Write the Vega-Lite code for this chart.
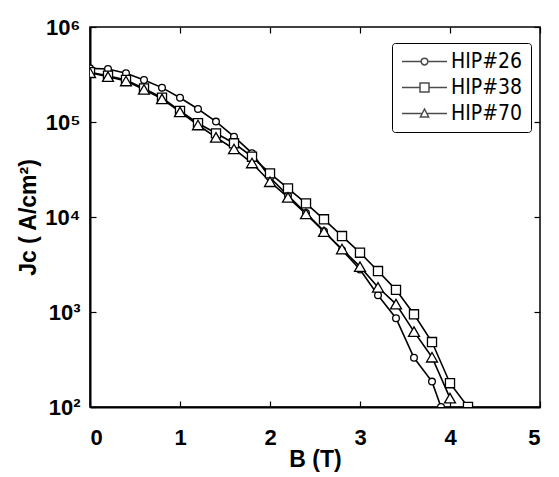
{
  "$schema": "https://vega.github.io/schema/vega-lite/v6.json",
  "width": 450,
  "height": 380,
  "autosize": {"type": "none"},
  "padding": {"left": 90, "top": 27, "right": 19, "bottom": 70},
  "background": "white",
  "config": {
    "view": {"stroke": "black", "strokeWidth": 1.5},
    "font": "Liberation Sans",
    "axis": {
      "labelFont": "Liberation Sans",
      "labelFontWeight": "bold",
      "labelFontSize": 22,
      "labelColor": "black",
      "titleFont": "Liberation Sans",
      "titleFontWeight": "bold",
      "titleFontSize": 23,
      "titleColor": "black",
      "domainColor": "black",
      "domainWidth": 2,
      "tickColor": "black",
      "tickWidth": 1.2,
      "grid": false
    }
  },
  "data": {
    "values": [
      {"B": 0, "Jc": 367000, "s": "HIP#26"},
      {"B": 0.2, "Jc": 361000, "s": "HIP#26"},
      {"B": 0.4, "Jc": 326000, "s": "HIP#26"},
      {"B": 0.6, "Jc": 277000, "s": "HIP#26"},
      {"B": 0.8, "Jc": 230000, "s": "HIP#26"},
      {"B": 1.0, "Jc": 180000, "s": "HIP#26"},
      {"B": 1.2, "Jc": 137000, "s": "HIP#26"},
      {"B": 1.4, "Jc": 101000, "s": "HIP#26"},
      {"B": 1.6, "Jc": 70000, "s": "HIP#26"},
      {"B": 1.8, "Jc": 47000, "s": "HIP#26"},
      {"B": 2.0, "Jc": 26000, "s": "HIP#26"},
      {"B": 2.2, "Jc": 16800, "s": "HIP#26"},
      {"B": 2.4, "Jc": 11000, "s": "HIP#26"},
      {"B": 2.6, "Jc": 7100, "s": "HIP#26"},
      {"B": 2.8, "Jc": 4500, "s": "HIP#26"},
      {"B": 3.0, "Jc": 2800, "s": "HIP#26"},
      {"B": 3.2, "Jc": 1500, "s": "HIP#26"},
      {"B": 3.4, "Jc": 860, "s": "HIP#26"},
      {"B": 3.6, "Jc": 330, "s": "HIP#26"},
      {"B": 3.8, "Jc": 185, "s": "HIP#26"},
      {"B": 3.9, "Jc": 100, "s": "HIP#26"},
      {"B": 0, "Jc": 334000, "s": "HIP#38"},
      {"B": 0.2, "Jc": 307000, "s": "HIP#38"},
      {"B": 0.4, "Jc": 277000, "s": "HIP#38"},
      {"B": 0.6, "Jc": 226000, "s": "HIP#38"},
      {"B": 0.8, "Jc": 180000, "s": "HIP#38"},
      {"B": 1.0, "Jc": 131000, "s": "HIP#38"},
      {"B": 1.2, "Jc": 97000, "s": "HIP#38"},
      {"B": 1.4, "Jc": 76000, "s": "HIP#38"},
      {"B": 1.6, "Jc": 59700, "s": "HIP#38"},
      {"B": 1.8, "Jc": 43100, "s": "HIP#38"},
      {"B": 2.0, "Jc": 28800, "s": "HIP#38"},
      {"B": 2.2, "Jc": 20000, "s": "HIP#38"},
      {"B": 2.4, "Jc": 13900, "s": "HIP#38"},
      {"B": 2.6, "Jc": 9460, "s": "HIP#38"},
      {"B": 2.8, "Jc": 6300, "s": "HIP#38"},
      {"B": 3.0, "Jc": 4210, "s": "HIP#38"},
      {"B": 3.2, "Jc": 2700, "s": "HIP#38"},
      {"B": 3.4, "Jc": 1710, "s": "HIP#38"},
      {"B": 3.6, "Jc": 946, "s": "HIP#38"},
      {"B": 3.8, "Jc": 483, "s": "HIP#38"},
      {"B": 4.0, "Jc": 178, "s": "HIP#38"},
      {"B": 4.2, "Jc": 100, "s": "HIP#38"},
      {"B": 0, "Jc": 330000, "s": "HIP#70"},
      {"B": 0.2, "Jc": 300000, "s": "HIP#70"},
      {"B": 0.4, "Jc": 270000, "s": "HIP#70"},
      {"B": 0.6, "Jc": 220000, "s": "HIP#70"},
      {"B": 0.8, "Jc": 175000, "s": "HIP#70"},
      {"B": 1.0, "Jc": 128000, "s": "HIP#70"},
      {"B": 1.2, "Jc": 93000, "s": "HIP#70"},
      {"B": 1.4, "Jc": 69000, "s": "HIP#70"},
      {"B": 1.6, "Jc": 52000, "s": "HIP#70"},
      {"B": 1.8, "Jc": 37000, "s": "HIP#70"},
      {"B": 2.0, "Jc": 23500, "s": "HIP#70"},
      {"B": 2.2, "Jc": 16100, "s": "HIP#70"},
      {"B": 2.4, "Jc": 10800, "s": "HIP#70"},
      {"B": 2.6, "Jc": 7000, "s": "HIP#70"},
      {"B": 2.8, "Jc": 4600, "s": "HIP#70"},
      {"B": 3.0, "Jc": 3000, "s": "HIP#70"},
      {"B": 3.2, "Jc": 1820, "s": "HIP#70"},
      {"B": 3.4, "Jc": 1210, "s": "HIP#70"},
      {"B": 3.6, "Jc": 621, "s": "HIP#70"},
      {"B": 3.8, "Jc": 334, "s": "HIP#70"},
      {"B": 4.0, "Jc": 124, "s": "HIP#70"}
    ]
  },
  "resolve": {"scale": {"shape": "independent", "size": "independent"}, "axis": {"x": "independent", "y": "independent"}},
  "layer": [
    {
      "mark": {"type": "line", "color": "black", "strokeWidth": 1.6, "clip": true},
      "encoding": {
        "x": {"field": "B", "type": "quantitative", "scale": {"domain": [0, 5], "nice": false},
              "axis": {"orient": "bottom", "values": [0, 1, 2, 3, 4, 5], "tickSize": -6, "labelPadding": 26, "title": "B (T)", "titlePadding": 0}},
        "y": {"field": "Jc", "type": "quantitative", "scale": {"type": "log", "domain": [100, 1000000], "nice": false},
              "axis": {"orient": "left", "values": [100, 1000, 10000, 100000, 1000000], "tickSize": -6, "labelPadding": 16,
                       "labelExpr": "'10' + ['⁰','¹','²','³','⁴','⁵','⁶'][round(log(datum.value)/LN10)]",
                       "title": "Jc ( A/cm²)", "titlePadding": 4}},
        "detail": {"field": "s", "type": "nominal"}
      }
    },
    {
      "mark": {"type": "point", "filled": false, "fill": "white", "fillOpacity": 1, "stroke": "black", "strokeWidth": 1.3, "opacity": 1, "clip": true},
      "encoding": {
        "x": {"field": "B", "type": "quantitative",
              "axis": {"orient": "top", "values": [0, 1, 2, 3, 4, 5], "tickSize": -6, "labels": false, "title": null, "domain": false}},
        "y": {"field": "Jc", "type": "quantitative",
              "axis": {"orient": "right", "values": [100, 1000, 10000, 100000, 1000000], "tickSize": -6, "labels": false, "title": null, "domain": false}},
        "shape": {"field": "s", "type": "nominal", "scale": {"domain": ["HIP#26", "HIP#38", "HIP#70"], "range": ["circle", "square", "triangle-up"]}, "legend": null},
        "size": {"field": "s", "type": "nominal", "scale": {"domain": ["HIP#26", "HIP#38", "HIP#70"], "range": [45, 120, 75]}, "legend": null}
      }
    },
    {
      "transform": [{"filter": "datum.B < 0"}],
      "mark": {"type": "point", "filled": false, "stroke": "black", "strokeWidth": 1.5, "size": 225},
      "encoding": {
        "x": {"field": "B", "type": "quantitative", "axis": null},
        "y": {"field": "Jc", "type": "quantitative", "axis": null},
        "shape": {
          "field": "s", "type": "nominal",
          "scale": {
            "domain": ["HIP#26", "HIP#38", "HIP#70"],
            "range": [
              "M-3,0H-0.45M0.45,0H3M-0.45,0A0.45,0.45,0,1,0,0.45,0A0.45,0.45,0,1,0,-0.45,0",
              "M-3,0H-0.6M0.6,0H3M-0.6,-0.6H0.6V0.6H-0.6Z",
              "M-3,0H-0.31M0.31,0H3M0,-0.6L0.55,0.45H-0.55Z"
            ]
          },
          "legend": {
            "title": null,
            "orient": "none",
            "legendX": 302,
            "legendY": 16,
            "padding": 8,
            "strokeColor": "black",
            "cornerRadius": 3,
            "fillColor": "white",
            "symbolSize": 225,
            "symbolOffset": 14,
            "symbolStrokeColor": "black",
            "symbolStrokeWidth": 1.5,
            "symbolFillColor": "white",
            "labelOffset": 16,
            "labelFont": "DejaVu Sans Condensed, Liberation Sans",
            "labelFontSize": 21,
            "labelColor": "black",
            "rowPadding": 4,
            "labelLimit": 200,
            "encode": {"legend": {"update": {"strokeWidth": {"value": 2}}}}
          }
        }
      }
    }
  ]
}
